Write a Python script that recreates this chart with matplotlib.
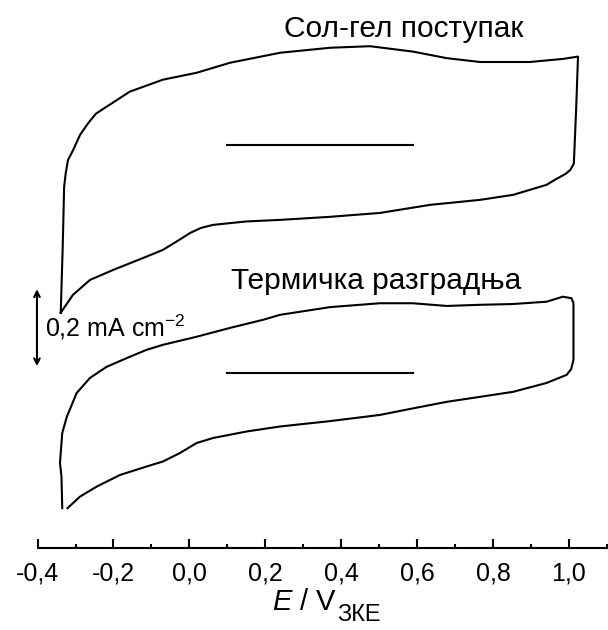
# Cyclic voltammograms: sol-gel vs thermal decomposition (recreated figure)
import numpy as np
import matplotlib
matplotlib.use('Agg')
from matplotlib import pyplot as plt
from matplotlib.ticker import MultipleLocator, FuncFormatter

plt.rcParams['font.family'] = ['Liberation Sans', 'DejaVu Sans']
plt.rcParams['mathtext.fontset'] = 'custom'
plt.rcParams['mathtext.rm'] = 'Liberation Sans'
plt.rcParams['mathtext.it'] = 'Liberation Sans:italic'

# --- data: potential E / V and current density j / mA cm^-2 ---------------
# Sol-gel sample (closed loop: anodic sweep, then cathodic sweep)
E_solgel = [-0.339, -0.334, -0.330, -0.326, -0.320, -0.306, -0.288, -0.266,
            -0.246, -0.218, -0.157, -0.070, 0.019, 0.107, 0.239, 0.371,
            0.476, 0.589, 0.678, 0.766, 0.897, 0.984, 1.024,
            1.019, 1.013, 1.004, 0.992, 0.963, 0.941, 0.853, 0.766, 0.634,
            0.502, 0.371, 0.239, 0.151, 0.062, 0.030, 0.002, -0.035, -0.070,
            -0.122, -0.201, -0.262, -0.307, -0.339]
j_solgel = [-0.436, -0.273, -0.109, -0.075, -0.040, -0.013, 0.026, 0.057,
            0.081, 0.099, 0.138, 0.169, 0.187, 0.213, 0.239, 0.252,
            0.256, 0.242, 0.225, 0.215, 0.215, 0.223, 0.229,
            0.091, -0.049, -0.065, -0.075, -0.091, -0.104, -0.130, -0.143,
            -0.156, -0.177, -0.187, -0.195, -0.199, -0.208, -0.216, -0.229,
            -0.252, -0.273, -0.294, -0.325, -0.351, -0.390, -0.436]

# Thermal decomposition sample
E_thermal = [-0.335, -0.337, -0.341, -0.335, -0.323, -0.297, -0.262, -0.218,
             -0.157, -0.113, -0.070, 0.019, 0.107, 0.194, 0.239, 0.371,
             0.502, 0.589, 0.678, 0.766, 0.853, 0.941, 0.984, 1.007, 1.012,
             1.012, 1.006, 0.994, 0.941, 0.853, 0.766, 0.678, 0.589, 0.502,
             0.371, 0.239, 0.151, 0.062, 0.019, -0.025, -0.070, -0.113,
             -0.183, -0.244, -0.288, -0.321]
j_thermal = [-0.351, -0.269, -0.234, -0.156, -0.114, -0.052, -0.013, 0.016,
             0.042, 0.060, 0.073, 0.094, 0.117, 0.138, 0.151, 0.171,
             0.181, 0.181, 0.174, 0.177, 0.179, 0.185, 0.198, 0.194, 0.181,
             0.034, 0.010, -0.005, -0.026, -0.049, -0.062, -0.075, -0.092,
             -0.109, -0.125, -0.139, -0.152, -0.169, -0.182, -0.208, -0.230,
             -0.243, -0.265, -0.295, -0.321, -0.351]

zero_line_E = [0.1, 0.59]
labels = ['Сол-гел поступак', 'Термичка разградња']
scale_bar = 0.2          # mA cm^-2
xticks = [-0.4, -0.2, 0.0, 0.2, 0.4, 0.6, 0.8, 1.0]

# vertical offsets of the two curves (stacked plot)
off_solgel = 1.047
off_thermal = 0.4545

fig = plt.figure(figsize=(6.08, 6.3), dpi=100)
ax = fig.add_axes([0.0618, 0.1302, 0.9382, 0.8698])

lw = 1.5
ax.plot(E_solgel, np.array(j_solgel) + off_solgel, color='black', lw=lw,
        solid_joinstyle='round')
ax.plot(E_thermal, np.array(j_thermal) + off_thermal, color='black', lw=lw,
        solid_joinstyle='round')
ax.plot(zero_line_E, [off_solgel, off_solgel], color='black', lw=lw)
ax.plot(zero_line_E, [off_thermal, off_thermal], color='black', lw=lw)

ax.text(0.565, 1.327, labels[0], fontsize=21.5, ha='center', va='baseline')
ax.text(0.493, 0.673, labels[1], fontsize=21.5, ha='center', va='baseline')

# scale bar
ybar = 0.472
ax.annotate('', xy=(-0.4016, ybar + scale_bar), xytext=(-0.4016, ybar),
            arrowprops=dict(arrowstyle='<->', color='black', lw=1.5,
                            shrinkA=0, shrinkB=0, mutation_scale=10),
            annotation_clip=False)
ax.text(-0.381, 0.548, r'0,2 mA cm$^{\mathregular{-2}}$', fontsize=18,
        va='baseline', ha='left')

ax.set_xlim(-0.4, 1.103)
ax.set_ylim(0, 1.423)
for s in ['left', 'right', 'top']:
    ax.spines[s].set_visible(False)
ax.spines['bottom'].set_linewidth(1.5)
ax.set_yticks([])
ax.set_xticks(xticks)
ax.xaxis.set_minor_locator(MultipleLocator(0.1))
ax.xaxis.set_major_formatter(FuncFormatter(lambda v, p: ('%.1f' % v).replace('.', ',')))
ax.tick_params(axis='x', which='major', direction='in', length=6.5, width=1.5,
               labelsize=18, pad=10)
ax.tick_params(axis='x', which='minor', direction='in', length=3, width=1.5)

# axis title: E / V with a large subscript
fig.text(0.554, 0.032, r'$E$ / V', fontsize=21, ha='right', va='baseline')
fig.text(0.554, 0.014, 'ЗКЕ', fontsize=17, ha='left', va='baseline')

fig.savefig('out.png', dpi=100)
